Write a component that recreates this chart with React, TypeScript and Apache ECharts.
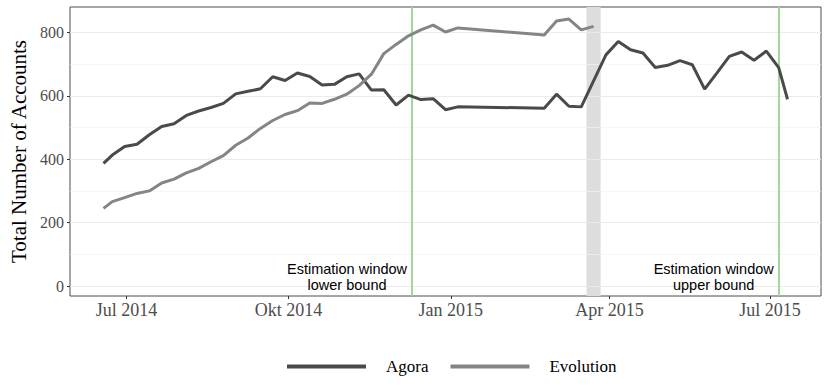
import React, { useEffect, useRef } from "react";
import * as echarts from "echarts";

// ---- Data ----
const sharedDates = [
  "2014-06-18", "2014-06-23", "2014-06-30", "2014-07-07", "2014-07-14", "2014-07-21", "2014-07-28",
  "2014-08-04", "2014-08-11", "2014-08-18", "2014-08-25", "2014-09-01", "2014-09-08", "2014-09-15",
  "2014-09-22", "2014-09-29", "2014-10-06", "2014-10-13", "2014-10-20", "2014-10-27", "2014-11-03",
  "2014-11-10", "2014-11-17", "2014-11-24", "2014-12-01", "2014-12-08", "2014-12-15", "2014-12-22",
  "2014-12-29", "2015-01-05",
];
const agoraDates = [
  ...sharedDates,
  "2015-02-23", "2015-03-02", "2015-03-09", "2015-03-16", "2015-03-30", "2015-04-06", "2015-04-13",
  "2015-04-20", "2015-04-27", "2015-05-04", "2015-05-11", "2015-05-18", "2015-05-25", "2015-06-01",
  "2015-06-08", "2015-06-15", "2015-06-22", "2015-06-29", "2015-07-06", "2015-07-11",
];
const agoraValues = [
  387, 413, 440, 447, 477, 503, 512, 538, 552, 563,
  576, 606, 614, 622, 660, 648, 672, 661, 634, 636,
  660, 669, 618, 619, 571, 602, 588, 591, 556, 565,
  561, 605, 567, 565,
  729, 771, 745, 735, 689, 696, 711, 698, 621, 672,
  724, 738, 712, 741, 689, 589,
];
const evolutionDates = [
  ...sharedDates,
  "2015-02-23", "2015-03-02", "2015-03-09", "2015-03-16", "2015-03-23",
];
const evolutionValues = [
  245, 266, 279, 292, 300, 325, 337, 357, 371, 392,
  411, 444, 467, 497, 522, 541, 553, 577, 576, 589,
  605, 632, 668, 733, 762, 789, 808, 823, 801, 814,
  792, 836, 842, 808, 819,
];

const xTickDates = ["2014-07-01", "2014-10-01", "2015-01-01", "2015-04-01", "2015-07-01"];
const xTickLabels = ["Jul 2014", "Okt 2014", "Jan 2015", "Apr 2015", "Jul 2015"];
const yTickValues = [0, 200, 400, 600, 800];
const yMinorGrid = [100, 300, 500, 700];
const xRange = ["2014-05-30", "2015-07-30"];
const yRange = [-31.5, 880];

const windowDates = ["2014-12-10", "2015-07-06"];
const windowLabels = ["Estimation window\nlower bound", "Estimation window\nupper bound"];
const windowLabelValue = 29;
const outageBand = ["2015-03-19", "2015-03-27"];

const seriesNames = ["Agora", "Evolution"];
const seriesColors = ["#4a4a4a", "#858585"];

const ts = (s: string) => {
  const [y, m, d] = s.split("-").map(Number);
  return Date.UTC(y, m - 1, d);
};

const SERIF = "'Liberation Serif', 'Times New Roman', serif";
const SANS = "'Liberation Sans', Arial, sans-serif";

export default function App() {
  const ref = useRef<HTMLDivElement>(null);

  useEffect(() => {
    if (!ref.current) return;
    const chart = echarts.init(ref.current, undefined, { renderer: "svg" });
    const xTickTs = xTickDates.map(ts);

    chart.setOption({
      animation: false,
      backgroundColor: "#ffffff",
      grid: {
        left: 66,
        right: 9,
        top: 7,
        bottom: 95,
        show: true,
        borderColor: "#4d4d4d",
        borderWidth: 1,
        backgroundColor: "transparent",
      },
      xAxis: {
        type: "value",
        min: ts(xRange[0]),
        max: ts(xRange[1]),
        axisLine: { show: false, onZero: false },
        splitLine: { show: false },
        axisTick: {
          show: true,
          customValues: xTickTs,
          length: 3,
          lineStyle: { color: "#333333" },
        },
        axisLabel: {
          customValues: xTickTs,
          formatter: (v: number) => {
            const i = xTickTs.findIndex((t) => Math.abs(t - v) < 3600 * 1000 * 12);
            return i >= 0 ? xTickLabels[i] : "";
          },
          fontFamily: SERIF,
          fontSize: 18,
          color: "#4d4d4d",
          margin: 5,
          hideOverlap: false,
        },
      },
      yAxis: {
        type: "value",
        min: yRange[0],
        max: yRange[1],
        name: "Total Number of Accounts",
        nameLocation: "middle",
        nameGap: 41,
        nameRotate: 90,
        nameTextStyle: { fontFamily: SERIF, fontSize: 21, color: "#000000" },
        axisLine: { show: false, onZero: false },
        splitLine: { show: false },
        axisTick: {
          show: true,
          customValues: yTickValues,
          length: 3,
          lineStyle: { color: "#333333" },
        },
        axisLabel: {
          customValues: yTickValues,
          fontFamily: SERIF,
          fontSize: 16,
          color: "#4d4d4d",
          margin: 6,
        },
      },
      legend: {
        left: 282,
        top: 353,
        icon: "rect",
        itemWidth: 79,
        itemHeight: 4,
        itemGap: 22,
        data: seriesNames,
        textStyle: {
          fontFamily: SERIF,
          fontSize: 17,
          color: "#000000",
          padding: [0, 0, 0, 15],
        },
      },
      series: [
        {
          type: "line",
          name: "_grid",
          data: [],
          z: 1,
          silent: true,
          markLine: {
            silent: true,
            symbol: ["none", "none"],
            label: { show: false },
            data: [
              ...yTickValues.map((v) => ({
                yAxis: v,
                lineStyle: { color: "#ebebeb", width: 1, type: "solid" },
              })),
              ...yMinorGrid.map((v) => ({
                yAxis: v,
                lineStyle: { color: "#f2f2f2", width: 0.7, type: "solid" },
              })),
            ],
          },
        },
        {
          type: "line",
          name: "_band",
          data: [],
          z: 2,
          silent: true,
          markArea: {
            silent: true,
            itemStyle: { color: "#dddddd" },
            data: [[{ xAxis: ts(outageBand[0]) }, { xAxis: ts(outageBand[1]) }]],
          },
        },
        {
          type: "line",
          name: "_window",
          data: [],
          z: 3,
          silent: true,
          markLine: {
            silent: true,
            symbol: ["none", "none"],
            label: { show: false },
            data: windowDates.map((d) => ({
              xAxis: ts(d),
              lineStyle: { color: "#a3d69c", width: 2, type: "solid" },
            })),
          },
          markPoint: {
            silent: true,
            symbol: "circle",
            symbolSize: 0,
            data: windowDates.map((d, i) => ({
              coord: [ts(d), windowLabelValue],
              symbolSize: 0,
              label: {
                show: true,
                position: "inside",
                offset: [-65, 0],
                formatter: windowLabels[i],
                fontFamily: SANS,
                fontSize: 14.5,
                lineHeight: 16,
                color: "#000000",
                align: "center",
                verticalAlign: "middle",
              },
            })),
          },
        },
        {
          type: "line",
          name: seriesNames[0],
          z: 5,
          symbol: "none",
          lineStyle: { color: seriesColors[0], width: 3 },
          itemStyle: { color: seriesColors[0] },
          data: agoraDates.map((d, i) => [ts(d), agoraValues[i]]),
        },
        {
          type: "line",
          name: seriesNames[1],
          z: 6,
          symbol: "none",
          lineStyle: { color: seriesColors[1], width: 3 },
          itemStyle: { color: seriesColors[1] },
          data: evolutionDates.map((d, i) => [ts(d), evolutionValues[i]]),
        },
      ],
    });

    return () => chart.dispose();
  }, []);

  return (
    <div
      ref={ref}
      style={{ position: "absolute", left: 0, top: 0, width: 830, height: 391 }}
    />
  );
}
